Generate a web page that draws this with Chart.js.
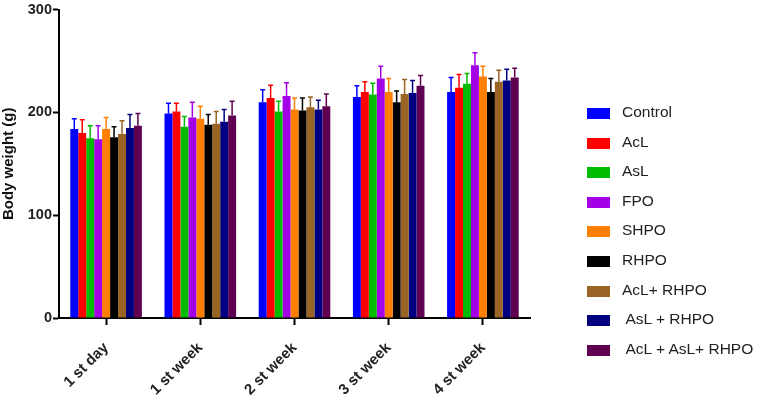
<!DOCTYPE html>
<html>
<head>
<meta charset="utf-8">
<script src="https://cdn.jsdelivr.net/npm/chart.js@4/dist/chart.umd.min.js"></script>
<style>
  body { margin: 0; background: #fff; }
  #wrap { position: relative; width: 770px; height: 404px; }
  #legend { position: absolute; left: 587px; top: 103px; font-family: "Liberation Sans", Arial, sans-serif; font-size: 15.5px; color: #222; }
  #legend div { height: 29.6px; display: flex; align-items: flex-start; white-space: pre; }
  #legend span.box { display: inline-block; width: 23px; height: 11px; margin-right: 12px; margin-top: 5px; }
</style>
</head>
<body>
<div id="wrap">
  <canvas id="chart" width="770" height="404"></canvas>
  <div id="legend"></div>
</div>
<script>
const categories = ['1 st day', '1 st week', '2 st week', '3 st week', '4 st week'];
const groupNames = ['Control', 'AcL', 'AsL', 'FPO', 'SHPO', 'RHPO', 'AcL+ RHPO', ' AsL + RHPO', ' AcL + AsL+ RHPO'];
const groupColors = ['#0000ff', '#ff0000', '#00bb00', '#a300e6', '#ff8000', '#000000', '#9a6424', '#000080', '#600050'];

// mean body weight per group
const control  = [184, 199, 210, 215, 220];
const acl      = [180, 201, 214, 220, 224];
const asl      = [175, 186, 201, 217.5, 228];
const fpo      = [174, 195, 216, 233, 246];
const shpo     = [184, 194, 203, 220, 235];
const rhpo     = [176, 188, 202, 210, 220];
const aclRhpo  = [179, 189, 205, 218, 230];
const aslRhpo  = [185, 191, 203, 219, 231];
const allRhpo  = [187, 197, 206, 226, 234];

// upper error (SD)
const controlErr = [10, 10, 12, 11, 14];
const aclErr     = [13, 8, 12.5, 10, 13];
const aslErr     = [12, 10, 10, 11, 10];
const fpoErr     = [13, 15, 13, 12, 12];
const shpoErr    = [11, 12, 11, 13, 10];
const rhpoErr    = [10, 10, 12, 11, 13];
const aclRhpoErr = [13, 12, 10, 14, 11];
const aslRhpoErr = [13, 12, 9, 12, 11];
const allRhpoErr = [12, 14, 12, 10, 9];

const yTicks = [0, 100, 200, 300];

const seriesValues = [control, acl, asl, fpo, shpo, rhpo, aclRhpo, aslRhpo, allRhpo];
const seriesErrors = [controlErr, aclErr, aslErr, fpoErr, shpoErr, rhpoErr, aclRhpoErr, aslRhpoErr, allRhpoErr];

const errorBars = {
  id: 'errorBars',
  afterDatasetsDraw(chart) {
    const ctx = chart.ctx;
    const yScale = chart.scales.y;
    chart.data.datasets.forEach((ds, i) => {
      const meta = chart.getDatasetMeta(i);
      meta.data.forEach((bar, j) => {
        const top = yScale.getPixelForValue(ds.data[j] + ds.errors[j]);
        ctx.save();
        ctx.strokeStyle = ds.backgroundColor;
        ctx.lineWidth = 1.5;
        ctx.beginPath();
        ctx.moveTo(bar.x, bar.y);
        ctx.lineTo(bar.x, top);
        ctx.moveTo(bar.x - 2.5, top);
        ctx.lineTo(bar.x + 2.5, top);
        ctx.stroke();
        ctx.restore();
      });
    });
  }
};

const ctx = document.getElementById('chart').getContext('2d');
new Chart(ctx, {
  type: 'bar',
  data: {
    labels: categories,
    datasets: groupNames.map((name, i) => ({
      label: name,
      data: seriesValues[i],
      errors: seriesErrors[i],
      backgroundColor: groupColors[i],
      borderWidth: 0,
      barPercentage: 1,
      categoryPercentage: 0.76
    }))
  },
  options: {
    responsive: false,
    animation: false,
    layout: { padding: { left: 0, top: 8, right: 240, bottom: 0 } },
    plugins: {
      legend: { display: false },
      tooltip: { enabled: false }
    },
    scales: {
      x: {
        offset: true,
        grid: { display: true, offset: false, drawOnChartArea: false, drawTicks: true, tickLength: 7, tickColor: '#000', tickWidth: 2 },
        border: { color: '#000', width: 2 },
        ticks: {
          color: '#222',
          font: { family: 'Liberation Sans, Arial', size: 15, weight: 'bold' },
          minRotation: 45,
          maxRotation: 45,
          padding: 14
        },
        afterFit(scale) { scale.height = 86; }
      },
      y: {
        min: 0,
        max: 300,
        afterBuildTicks(scale) { scale.ticks = yTicks.map(v => ({ value: v })); },
        grid: { display: true, drawOnChartArea: false, drawTicks: true, tickLength: 6, tickColor: '#000', tickWidth: 2 },
        border: { color: '#000', width: 2 },
        ticks: {
          color: '#222',
          font: { family: 'Liberation Sans, Arial', size: 14.5, weight: 'bold' },
          padding: 1
        },
        title: {
          display: true,
          text: 'Body weight (g)',
          color: '#111',
          font: { family: 'Liberation Sans, Arial', size: 15, weight: 'bold' },
          padding: { top: 0, bottom: 0 }
        },
        afterFit(scale) { scale.width = 59; }
      }
    }
  },
  plugins: [errorBars]
});

// legend on the right
const legend = document.getElementById('legend');
groupNames.forEach((name, i) => {
  const row = document.createElement('div');
  const box = document.createElement('span');
  box.className = 'box';
  box.style.background = groupColors[i];
  row.appendChild(box);
  row.appendChild(document.createTextNode(name));
  legend.appendChild(row);
});
</script>
</body>
</html>
